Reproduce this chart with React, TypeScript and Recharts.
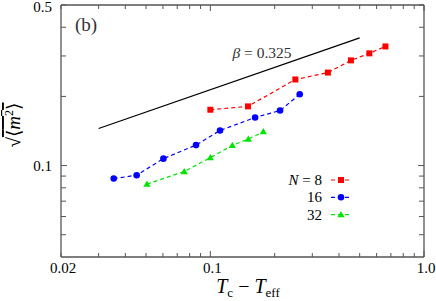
import React from 'react';
import { ComposedChart, Scatter, XAxis, YAxis, Legend } from 'recharts';

const xTicks = [0.02, 0.03, 0.04, 0.05, 0.06, 0.07, 0.08, 0.09, 0.1, 0.2, 0.3, 0.4, 0.5, 0.6, 0.7, 0.8, 0.9, 1.0];
const xTickLabels: [number, string][] = [[0.02, '0.02'], [0.1, '0.1'], [1.0, '1.0']];
const yTicks = [0.05, 0.06, 0.07, 0.08, 0.09, 0.1, 0.2, 0.3, 0.4, 0.5];
const yTickLabels: [number, string][] = [[0.1, '0.1'], [0.5, '0.5']];
const majorTicks = [0.1, 1.0];

const n8X = [0.1, 0.15, 0.25, 0.355, 0.455, 0.555, 0.66];
const n8Y = [0.175, 0.181, 0.237, 0.254, 0.287, 0.308, 0.33];
const n16X = [0.0353, 0.0452, 0.0603, 0.0857, 0.111, 0.162, 0.212, 0.262];
const n16Y = [0.0878, 0.0908, 0.1072, 0.1228, 0.1422, 0.1619, 0.1736, 0.2043];
const n32X = [0.0505, 0.0755, 0.1, 0.1268, 0.1506, 0.177];
const n32Y = [0.083, 0.0942, 0.1083, 0.1224, 0.1304, 0.1404];
const betaX = [0.03, 0.5];
const betaY = [0.145, 0.36];

const seriesNames = ['8', '16', '32'];
const RED = '#ff0000';
const BLUE = '#0000ff';
const GREEN = '#00e600';
const AXIS = '#555555';
const FONT = "'Liberation Serif', 'DejaVu Serif', serif";

const zip = (xs: number[], ys: number[]) => xs.map((x, i) => ({ x, y: ys[i] }));
const n8 = zip(n8X, n8Y);
const n16 = zip(n16X, n16Y);
const n32 = zip(n32X, n32Y);
const beta = zip(betaX, betaY);

const near = (a: number, b: number) => Math.abs(a - b) < 1e-9;
const labelOf = (list: [number, string][], v: number) => {
  const f = list.find(([t]) => near(t, v));
  return f ? f[1] : '';
};
const isMajor = (v: number) => majorTicks.some((t) => near(t, v));

const BottomTick = (p: any) => {
  const v = p.payload.value;
  const lab = labelOf(xTickLabels, v);
  const len = isMajor(v) ? 6 : 4;
  return (
    <g>
      <line x1={p.x} x2={p.x} y1={p.y} y2={p.y - len} stroke={AXIS} strokeWidth={1} />
      {lab && (
        <text x={p.x + 2} y={p.y + 15.5} textAnchor="middle" fontSize={15} style={{ fontFamily: FONT }} fill="#000">
          {lab}
        </text>
      )}
    </g>
  );
};
const TopTick = (p: any) => {
  const v = p.payload.value;
  const len = isMajor(v) ? 6 : 4;
  return <line x1={p.x} x2={p.x} y1={p.y} y2={p.y + len} stroke={AXIS} strokeWidth={1} />;
};
const LeftTick = (p: any) => {
  const v = p.payload.value;
  const lab = labelOf(yTickLabels, v);
  const len = isMajor(v) ? 6 : 5;
  return (
    <g>
      <line x1={p.x} x2={p.x + len} y1={p.y} y2={p.y} stroke={AXIS} strokeWidth={1} />
      {lab && (
        <text x={p.x - 9} y={Math.max(p.y + 5.5, 12)} textAnchor="end" fontSize={15} style={{ fontFamily: FONT }} fill="#000">
          {lab}
        </text>
      )}
    </g>
  );
};
const RightTick = (p: any) => {
  const v = p.payload.value;
  const len = isMajor(v) ? 6 : 5;
  return <line x1={p.x} x2={p.x - len} y1={p.y} y2={p.y} stroke={AXIS} strokeWidth={1} />;
};

const Square = (p: any) => <rect x={p.cx - 3} y={p.cy - 3} width={6} height={6} fill={RED} />;
const Dot = (p: any) => <circle cx={p.cx} cy={p.cy} r={3.3} fill={BLUE} />;
const Tri = (p: any) => (
  <polygon points={`${p.cx - 3.6},${p.cy + 2.6} ${p.cx + 3.6},${p.cy + 2.6} ${p.cx},${p.cy - 3.6}`} fill={GREEN} />
);
const NoShape = () => <g />;

const XLabel = () => (
  <text x={248} y={293} textAnchor="middle" fontSize={20} style={{ fontFamily: FONT }} fill="#000">
    <tspan fontStyle="italic">T</tspan>
    <tspan fontSize={13} dy={4}>c</tspan>
    <tspan dy={-4}>{' \u2212 '}</tspan>
    <tspan fontStyle="italic">T</tspan>
    <tspan fontSize={13} dy={4}>eff</tspan>
  </text>
);

const YLabel = () => (
  <g transform="translate(20,125) rotate(-90)">
    <text x={0} y={0} textAnchor="middle" fontSize={19} style={{ fontFamily: FONT }} fill="#000">
      <tspan>{'\u221A'}</tspan>
      <tspan style={{ textDecoration: 'overline' }}>
        {'\u27E8'}
        <tspan fontStyle="italic">m</tspan>
        <tspan fontSize={12} dy={-7}>2</tspan>
        <tspan dy={7}>{'\u27E9'}</tspan>
      </tspan>
    </text>
  </g>
);

const legendColors = [RED, BLUE, GREEN];
const legendShapes = [Square, Dot, Tri];

const Overlay = () => (
  <svg width={436} height={301} style={{ position: 'absolute', left: 0, top: 0, pointerEvents: 'none' }}>
    <text x={86} y={31} textAnchor="middle" fontSize={19} style={{ fontFamily: FONT }} fill="#333">
      (b)
    </text>
    <text x={262} y={58} textAnchor="middle" fontSize={15.5} style={{ fontFamily: FONT }} fill="#333">
      <tspan fontStyle="italic">{'\u03B2'}</tspan>
      {' = 0.325'}
    </text>
    {seriesNames.map((n, i) => {
      const y = 180 + i * 17.3;
      const Shape = legendShapes[i];
      return (
        <g key={n}>
          <text x={322} y={y + 5} textAnchor="end" fontSize={15} style={{ fontFamily: FONT }} fill="#000">
            {i === 0 ? (
              <>
                <tspan fontStyle="italic">N</tspan>
                {' = ' + n}
              </>
            ) : (
              n
            )}
          </text>
          <line x1={331} x2={352} y1={y} y2={y} stroke={legendColors[i]} strokeWidth={1.2} strokeDasharray="4 3" />
          <Shape cx={341} cy={y} />
        </g>
      );
    })}
  </svg>
);

export default function App() {
  return (
    <div style={{ position: 'absolute', left: 0, top: 0, width: 436, height: 301, background: '#fff' }}>
      <ComposedChart width={436} height={301} margin={{ top: 4, right: 11, left: 11, bottom: 0 }}>
        <XAxis
          xAxisId="b"
          type="number"
          dataKey="x"
          scale="log"
          domain={[0.02, 1]}
          allowDataOverflow
          ticks={xTicks}
          interval={0}
          orientation="bottom"
          height={44}
          tickSize={0}
          tickMargin={0}
          tickLine={false}
          tick={<BottomTick />}
          axisLine={{ stroke: AXIS, strokeWidth: 1.3 }}
          label={<XLabel />}
        />
        <XAxis
          xAxisId="t"
          type="number"
          dataKey="x"
          scale="log"
          domain={[0.02, 1]}
          allowDataOverflow
          ticks={xTicks}
          interval={0}
          orientation="top"
          height={1}
          tickSize={0}
          tickMargin={0}
          tickLine={false}
          tick={<TopTick />}
          axisLine={{ stroke: AXIS, strokeWidth: 1.3 }}
        />
        <YAxis
          yAxisId="l"
          type="number"
          dataKey="y"
          scale="log"
          domain={[0.04, 0.5]}
          allowDataOverflow
          ticks={yTicks}
          interval={0}
          orientation="left"
          width={50}
          tickSize={0}
          tickMargin={0}
          tickLine={false}
          tick={<LeftTick />}
          axisLine={{ stroke: AXIS, strokeWidth: 1.3 }}
          label={<YLabel />}
        />
        <YAxis
          yAxisId="r"
          type="number"
          dataKey="y"
          scale="log"
          domain={[0.04, 0.5]}
          allowDataOverflow
          ticks={yTicks}
          interval={0}
          orientation="right"
          width={1}
          tickSize={0}
          tickMargin={0}
          tickLine={false}
          tick={<RightTick />}
          axisLine={{ stroke: AXIS, strokeWidth: 1.3 }}
        />
        <Scatter xAxisId="t" yAxisId="r" data={beta} shape={NoShape} isAnimationActive={false} legendType="none" />
        <Scatter
          xAxisId="b"
          yAxisId="l"
          data={beta}
          shape={NoShape}
          line={{ stroke: '#000', strokeWidth: 1.3 }}
          isAnimationActive={false}
          legendType="none"
        />
        <Scatter
          xAxisId="b"
          yAxisId="l"
          data={n8}
          shape={Square}
          line={{ stroke: RED, strokeWidth: 1.2, strokeDasharray: '4 3' }}
          isAnimationActive={false}
        />
        <Scatter
          xAxisId="b"
          yAxisId="l"
          data={n16}
          shape={Dot}
          line={{ stroke: BLUE, strokeWidth: 1.2, strokeDasharray: '4 3' }}
          isAnimationActive={false}
        />
        <Scatter
          xAxisId="b"
          yAxisId="l"
          data={n32}
          shape={Tri}
          line={{ stroke: GREEN, strokeWidth: 1.2, strokeDasharray: '4 3' }}
          isAnimationActive={false}
        />
        <Legend
          layout="horizontal"
          verticalAlign="middle"
          align="center"
          wrapperStyle={{ position: 'absolute', left: 0, top: 0, width: 436, height: 301, pointerEvents: 'none' }}
          content={() => <Overlay />}
        />
      </ComposedChart>
    </div>
  );
}
